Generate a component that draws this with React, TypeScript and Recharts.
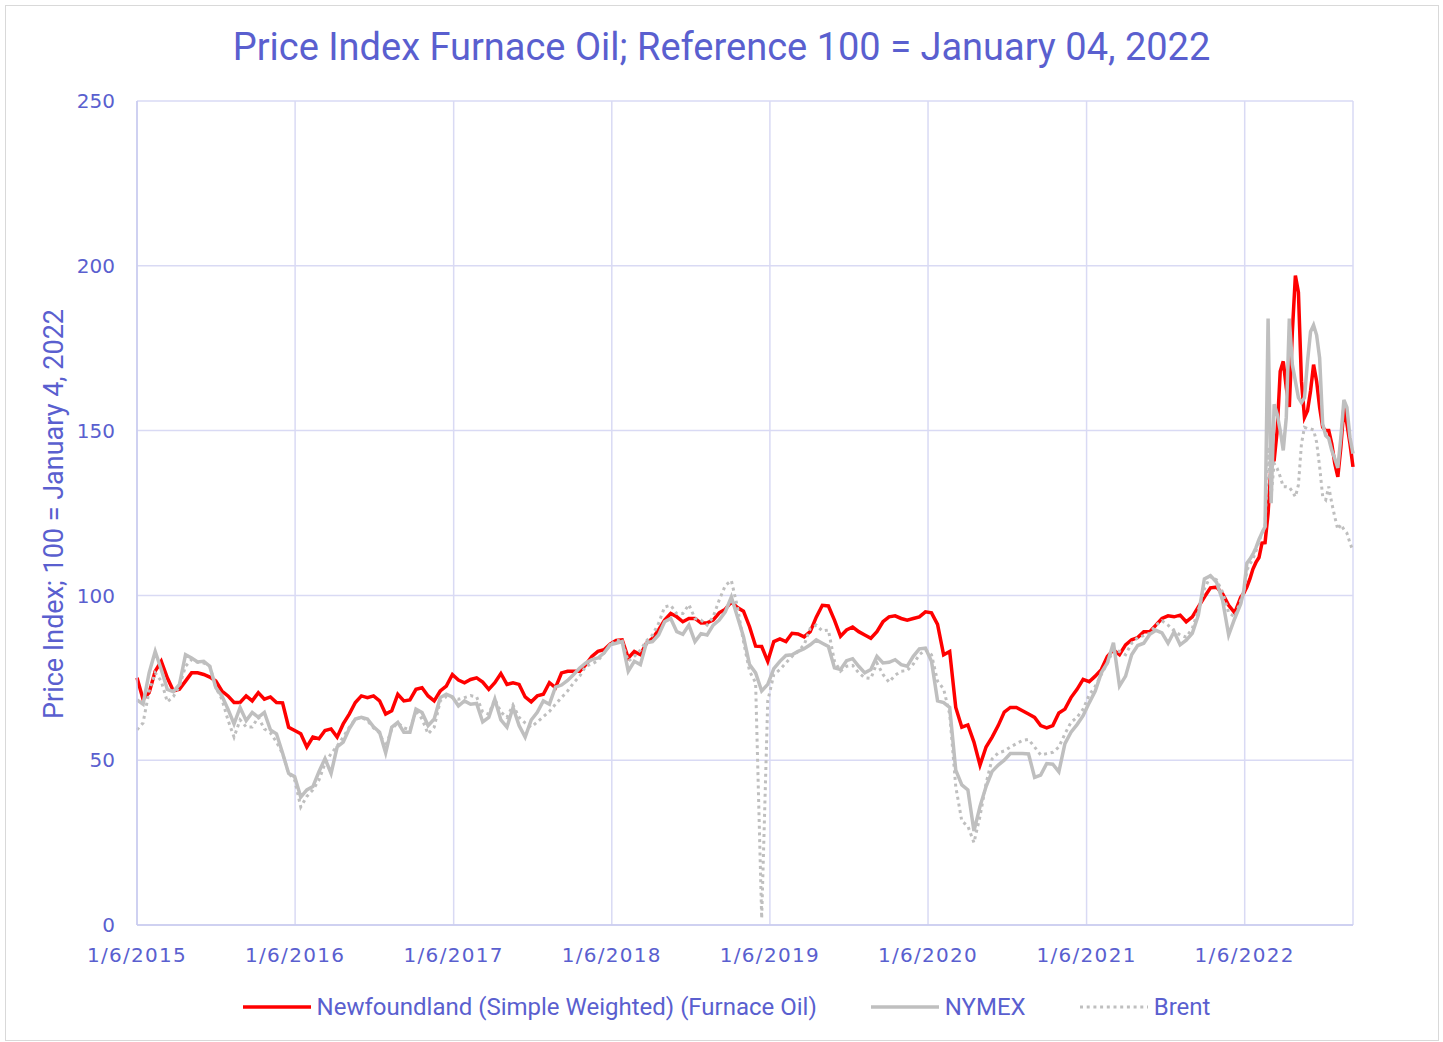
import React from 'react';
import { LineChart, Line, XAxis, YAxis, CartesianGrid } from 'recharts';

const TEXT = '#5A5FCF';
const GRID = '#D9DAF4';
const START_UTC = Date.UTC(2015, 0, 6);
const WEEK_MS = 7 * 24 * 3600 * 1000;

// week index counted from 1/6/2015 (every 2nd week until 2022, then weekly)
const WEEKS = [
  0, 2, 4, 6, 8, 10, 12, 14, 16, 18, 20, 22, 24, 26, 28, 30, 32, 34, 36, 38,
  40, 42, 44, 46, 48, 50, 52, 54, 56, 58, 60, 62, 64, 66, 68, 70, 72, 74, 76, 78,
  80, 82, 84, 86, 88, 90, 92, 94, 96, 98, 100, 102, 104, 106, 108, 110, 112, 114, 116, 118,
  120, 122, 124, 126, 128, 130, 132, 134, 136, 138, 140, 142, 144, 146, 148, 150, 152, 154, 156, 158,
  160, 162, 164, 166, 168, 170, 172, 174, 176, 178, 180, 182, 184, 186, 188, 190, 192, 194, 196, 198,
  200, 202, 204, 206, 208, 210, 212, 214, 216, 218, 220, 222, 224, 226, 228, 230, 232, 234, 236, 238,
  240, 242, 244, 246, 248, 250, 252, 254, 256, 258, 260, 262, 264, 266, 268, 270, 272, 274, 276, 278,
  280, 282, 284, 286, 288, 290, 292, 294, 296, 298, 300, 302, 304, 306, 308, 310, 312, 314, 316, 318,
  320, 322, 324, 326, 328, 330, 332, 334, 336, 338, 340, 342, 344, 346, 348, 350, 352, 354, 356, 358,
  360, 362, 364,
  365, 366, 367, 368, 369, 370, 371, 372, 373, 374, 375, 376, 377, 378, 379, 380, 381, 382, 383, 384,
  385, 386, 387, 388, 389, 390, 391, 392, 393, 394, 395, 396, 397, 398, 399, 400, 401,
];

const NEWFOUNDLAND = [
  75, 68.5, 70.5, 77, 80, 75, 71, 71.5, 74, 76.5,
  76.5, 76, 75.2, 74, 71, 69.5, 67.5, 67.5, 69.5, 68,
  70.5, 68.5, 69.2, 67.5, 67.4, 60, 59, 58, 54, 57,
  56.5, 59, 59.5, 57, 61, 64, 67.5, 69.5, 69, 69.5,
  68, 64, 65, 70, 68, 68.3, 71.5, 72, 69.5, 68,
  71, 72.5, 76, 74.3, 73.5, 74.5, 75, 73.7, 71.5, 73.5,
  76.3, 73, 73.5, 73, 69.2, 67.7, 69.5, 70, 73.5, 72,
  76.5, 77, 77, 77, 79, 81.5, 83, 83.5, 85.2, 86.3,
  86.5, 81, 83, 82, 85.5, 87, 89.5, 92.5, 94.5, 93.5,
  92, 93, 93, 91.6, 91.7, 92.5, 94.7, 95.8, 98, 96.3,
  95.2, 90.5, 84.6, 84.5, 80, 86, 86.8, 86, 88.5, 88.3,
  87.4, 89, 93.4, 97, 96.8, 92.5, 87.6, 89.5, 90.4, 89,
  88, 87, 89, 92, 93.5, 93.8, 93, 92.5, 93, 93.5,
  95, 94.7, 91.2, 82, 83, 66, 60, 60.7, 55.5, 48.5,
  54, 57, 60.5, 64.6, 66, 66, 65, 64, 63, 60.5,
  59.8, 60.5, 64.3, 65.5, 69, 71.5, 74.5, 73.8, 75.5, 77.5,
  81.5, 83.5, 82, 85, 86.5, 87.2, 89, 89, 91, 93,
  93.8, 93.5, 94, 92, 93.5, 96.5, 99.5, 102.3, 102.5, 100.5,
  97, 94.7, 99.5,
  100.7, 102.5, 105, 108, 110, 111.5, 115.9, 116, 125, 140,
  141, 150, 168, 171, 163, 157.2, 180, 197, 192, 165,
  154, 156, 162, 170, 165, 157, 151, 150, 150, 146,
  140, 136, 145, 157, 152, 146, 139,
];

const NYMEX = [
  68.3, 67, 76.5, 83, 77.5, 71.5, 70.8, 73, 82, 81,
  79.8, 80, 78.5, 72, 69.5, 65.5, 61, 66, 62, 64.5,
  63, 64.5, 59.2, 58, 52.2, 46, 45, 38.8, 41, 42,
  46.5, 50.5, 46, 54, 55.5, 59.5, 62.5, 63, 62.5, 60.1,
  58.5, 52.2, 60, 61.5, 58.5, 58.5, 65.5, 64.5, 60.5, 62.5,
  69, 70, 69.2, 66.5, 68, 67, 67.2, 61.6, 63, 68.5,
  62.2, 60, 66, 60.5, 57, 62.2, 64.5, 68, 67, 72.2,
  72.8, 74.2, 76, 78, 79.5, 80.5, 81, 82.5, 85, 85.5,
  86, 77, 80, 79, 85.6, 86, 88, 92, 93, 89,
  88.2, 91, 86, 88.4, 88, 91, 92.5, 95, 99.5, 93.5,
  87.5, 79, 76.5, 71, 73, 77.8, 80, 81.8, 82, 83,
  83.8, 85, 86.5, 85.5, 84.5, 78, 77.5, 80.2, 80.8, 78.5,
  76.5, 77.5, 81.5, 79.5, 79.7, 80.5, 79, 78.5, 81.5, 83.8,
  84, 80, 68, 67.5, 66, 47, 42.5, 41, 28.5, 36,
  42, 46.6, 48.5, 50, 52, 52, 52, 51.9, 44.8, 45.5,
  49, 48.8, 46.5, 55, 58.5, 60.8, 63.5, 67.4, 71, 76.5,
  79.5, 85.6, 72.5, 75.5, 82, 84.8, 85.5, 88.2, 89.4, 88.6,
  85.5, 89, 85, 86.4, 88.5, 94, 105, 106, 104, 98.5,
  88, 93, 97.5,
  101.5, 109.8, 111, 112.5, 114.5, 117, 119, 120.8, 184, 128,
  158, 155, 150, 144, 154, 184, 170, 165, 160, 158.5,
  160, 171, 180, 182, 179, 172, 152, 148.5, 147.6, 144,
  141.5, 138.7, 148, 159.3, 157, 148, 143,
];

const BRENT = [
  59.2, 61.3, 71, 76.5, 74, 67.7, 69.3, 72.5, 78.5, 80.5,
  79.7, 79.5, 78.5, 72, 68.5, 62.2, 57, 62.2, 60.1, 60.1,
  63, 59.5, 58.3, 55.5, 52, 46, 44, 35.8, 39, 41,
  44, 49, 52, 54.3, 57, 60, 62.5, 63, 62, 59.8,
  58.2, 54, 59.5, 61.3, 59.8, 59.2, 65, 62.5, 58, 60,
  68, 69.3, 69, 68.5, 69, 69.6, 69.2, 64.6, 64, 68.5,
  64.6, 63, 66.7, 63, 61.3, 60, 61.6, 63.2, 64.8, 67,
  69, 71, 73.5, 75.5, 78.5, 79.2, 80.2, 82.5, 84.8, 86.5,
  86, 80, 81.5, 83.4, 86.2, 88, 91.5, 96.5, 97, 94.5,
  94.5, 97.2, 93, 92.5, 91, 93.5, 98.6, 103, 104.5, 96.5,
  86, 77, 73.5, 2, 68, 76, 77.5, 79.5, 81.5, 83,
  85, 90, 91, 89.2, 89.5, 80, 77, 78.5, 78.8, 76.5,
  75, 74.8, 79.5, 76, 73.7, 75.8, 77, 77.2, 79.2, 82,
  83.5, 82, 74, 71.6, 64, 42, 31.5, 30, 25, 33,
  43, 50.4, 52.2, 52.8, 54, 55, 56, 56.3, 54, 51.6,
  52, 52.4, 54, 58, 61.5, 63, 65.5, 69.8, 72.4, 76,
  79.5, 83.5, 83, 82, 85.5, 87.2, 87.8, 88.5, 91, 92.3,
  91, 89.3, 88, 87.3, 90, 95.5, 102, 105.8, 104.7, 101,
  94.7, 93.5, 98.5,
  100.7, 107.7, 109.5, 111, 113.5, 116.2, 119, 121, 145, 130,
  140, 138.5, 136, 133, 133, 132.8, 131.5, 129.9, 133.5, 146,
  151, 150.6, 150.5, 150.2, 146.5, 139, 130, 129, 133, 128,
  123.8, 120, 121.5, 120, 118.9, 115.9, 113.5,
];

const TICK_YEARS = [2015, 2016, 2017, 2018, 2019, 2020, 2021, 2022];
const Y_TICKS = [0, 50, 100, 150, 200, 250];

const data = WEEKS.map((w, i) => ({
  t: START_UTC + w * WEEK_MS,
  nl: NEWFOUNDLAND[i],
  nymex: NYMEX[i],
  brent: BRENT[i],
}));

const xTicks = TICK_YEARS.map((y) => Date.UTC(y, 0, 6));

const fmtDate = (v: number) => {
  const d = new Date(v);
  return `${d.getUTCMonth() + 1}/${d.getUTCDate()}/${d.getUTCFullYear()}`;
};

const LEGEND = [
  { label: 'Newfoundland (Simple Weighted) (Furnace Oil)', color: '#FF0000', dash: undefined, width: 3.5 },
  { label: 'NYMEX', color: '#BFBFBF', dash: undefined, width: 3.5 },
  { label: 'Brent', color: '#BFBFBF', dash: '3 3.7', width: 3 },
];

const NARROW = 'Roboto, "Liberation Sans", sans-serif';
const TICK_FONT = '"DejaVu Sans", Verdana, sans-serif';

export default function App() {
  return (
    <div style={{ position: 'absolute', left: 0, top: 0, width: 1443, height: 1042, background: '#fff' }}>
      <div
        style={{
          position: 'absolute',
          left: 5,
          top: 5,
          width: 1432,
          height: 1034,
          border: '1px solid #D9D9D9',
        }}
      />
      <div
        style={{
          position: 'absolute',
          left: 0,
          top: 23,
          width: 1443,
          textAlign: 'center',
          fontFamily: NARROW,
          fontSize: 38,
          lineHeight: '48px',
          color: TEXT,
        }}
      >
        Price Index Furnace Oil; Reference 100 = January 04, 2022
      </div>
      <div
        style={{
          position: 'absolute',
          left: 54,
          top: 514,
          transform: 'translate(-50%, -50%) rotate(-90deg)',
          whiteSpace: 'nowrap',
          fontFamily: NARROW,
          fontSize: 27,
          color: TEXT,
        }}
      >
        Price Index; 100 = January 4, 2022
      </div>
      <div style={{ position: 'absolute', left: 0, top: 0 }}>
        <LineChart width={1443} height={1042} data={data} margin={{ top: 101, right: 90, bottom: 77, left: 0 }}>
          <CartesianGrid stroke={GRID} strokeWidth={1.5} />
          <XAxis
            dataKey="t"
            type="number"
            domain={['dataMin', 'dataMax']}
            ticks={xTicks}
            interval={0}
            tickFormatter={fmtDate}
            height={40}
            tickLine={false}
            tickSize={0}
            tickMargin={23}
            axisLine={{ stroke: '#C9CBEF', strokeWidth: 1.5 }}
            tick={{ fill: TEXT, fontSize: 20, fontFamily: TICK_FONT, letterSpacing: 1.3 }}
          />
          <YAxis
            type="number"
            domain={[0, 250]}
            ticks={Y_TICKS}
            interval={0}
            width={137}
            tickLine={false}
            tickSize={0}
            tickMargin={22}
            axisLine={{ stroke: '#C9CBEF', strokeWidth: 1.5 }}
            tick={{ fill: TEXT, fontSize: 20, fontFamily: TICK_FONT }}
          />
          <Line type="linear" dataKey="nl" stroke="#FF0000" strokeWidth={3.5} dot={false} isAnimationActive={false} />
          <Line type="linear" dataKey="nymex" stroke="#BFBFBF" strokeWidth={3.5} dot={false} isAnimationActive={false} />
          <Line
            type="linear"
            dataKey="brent"
            stroke="#BFBFBF"
            strokeWidth={3}
            strokeDasharray="3 3.7"
            dot={false}
            isAnimationActive={false}
          />
        </LineChart>
      </div>
      <div
        style={{
          position: 'absolute',
          left: 5,
          top: 993,
          width: 1443,
          display: 'flex',
          justifyContent: 'center',
          alignItems: 'center',
          gap: 54,
          fontFamily: NARROW,
          fontSize: 24,
          color: TEXT,
        }}
      >
        {LEGEND.map((item) => (
          <div key={item.label} style={{ display: 'flex', alignItems: 'center' }}>
            <svg width={68} height={10}>
              <line
                x1={0}
                y1={5}
                x2={68}
                y2={5}
                stroke={item.color}
                strokeWidth={item.width}
                strokeDasharray={item.dash}
              />
            </svg>
            <span style={{ marginLeft: 6 }}>{item.label}</span>
          </div>
        ))}
      </div>
    </div>
  );
}
